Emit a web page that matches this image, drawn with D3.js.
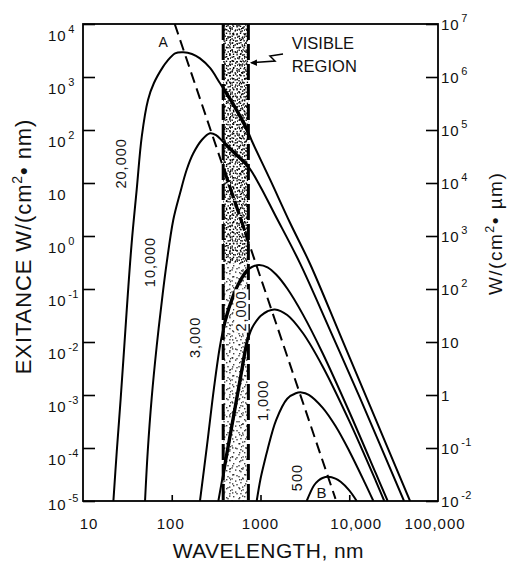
<!DOCTYPE html>
<html><head><meta charset="utf-8">
<script src="https://cdn.jsdelivr.net/npm/d3@7"></script>
<style>
html,body{margin:0;padding:0;background:#fff;}
svg{display:block;}
text{font-family:"Liberation Sans",Arial,sans-serif;fill:#111;}
</style></head><body>
<svg id="chart" width="517" height="565"></svg>
<script>
// ---------------- data ----------------
const temperatures = [20000, 10000, 3000, 2000, 1000, 500];
const curveLabels = ["20,000", "10,000", "3,000", "2,000", "1,000", "500"];

const wl20000 = [22, 24, 26.6, 29.2, 32, 35.4, 40.3, 46, 54, 63, 80, 88, 109, 135, 169, 208, 270, 350, 496, 729, 800, 1280, 2150, 3610, 7870, 17100, 48400];
const ex20000 = [1e-5, 8.5e-5, 8.7e-4, 8.4e-3, 0.08, 0.76, 7.6, 77, 370, 770, 1570, 1950, 2800, 2930, 2720, 2250, 1480, 760, 300, 90, 62, 11.7, 1.78, 0.30, 0.0138, 6.3e-4, 1e-5];

const wl10000 = [50, 53.6, 59.4, 67.7, 79, 87.7, 104, 124, 147, 175, 218, 270, 316, 378, 516, 729, 987, 1460, 2790, 6070, 13200, 41400];
const ex10000 = [1e-5, 8.5e-5, 8.7e-4, 8.4e-3, 0.08, 0.31, 2.0, 6.4, 17.6, 36.3, 64.7, 86.7, 80, 60, 36, 20.3, 8.8, 2.49, 0.305, 0.0168, 8.8e-4, 1e-5];

const wl3000 = [208, 250, 300, 350, 400, 500, 600, 700, 800, 966, 1200, 1500, 2000, 3000, 5000, 10000, 20000, 27100];
const ex3000 = [1e-5, 1.14e-4, 1.41e-3, 8.5e-3, 0.0251, 0.079, 0.151, 0.219, 0.26, 0.285, 0.257, 0.1875, 0.102, 0.0332, 6.2e-3, 4.83e-4, 3.27e-5, 1e-5];

const wl2000 = [335, 400, 500, 600, 700, 800, 900, 1000, 1200, 1450, 2000, 3000, 5000, 10000, 20000, 24800];
const ex2000 = [1e-5, 5.2e-5, 4.2e-4, 2.3e-3, 9.3e-3, 0.0182, 0.0251, 0.0309, 0.038, 0.0412, 0.0324, 0.0148, 3.5e-3, 3.25e-4, 2.35e-5, 1e-5];

const wl1000 = [906, 1000, 1100, 1200, 1500, 2000, 2500, 2900, 3500, 5000, 7000, 10000, 15000, 18700];
const ex1000 = [1e-5, 2.6e-5, 5.2e-5, 9.3e-5, 3.36e-4, 8.5e-4, 1.08e-3, 1.12e-3, 1.01e-3, 5.8e-4, 2.6e-4, 8.8e-5, 2.2e-5, 1e-5];

const wl500 = [3316, 4000, 4500, 5000, 5800, 7000, 8000, 10000, 12140];
const ex500 = [1e-5, 1.96e-5, 2.43e-5, 2.72e-5, 2.87e-5, 2.65e-5, 2.3e-5, 1.59e-5, 1e-5];

// Wien displacement locus A -> B (wavelength nm, exitance)
const wienLocusWl = [108, 7000];
const wienLocusEx = [1e4, 1.1e-5];

// visible region (nm)
const visibleRange = [380, 730];

// axes
const xTickValues = [10, 100, 1000, 10000, 100000];
const xTickLabels = ["10", "100", "1000", "10,000", "100,000"];
const leftTickValues = [1e4, 1e3, 1e2, 1e1, 1e0, 1e-1, 1e-2, 1e-3, 1e-4, 1e-5];
const leftTickBases = ["10", "10", "10", "10", "10", "10", "10", "10", "10", "10"];
const leftTickExps = ["4", "3", "2", "", "0", "-1", "-2", "-3", "-4", "-5"];
const rightTickValues = [1e7, 1e6, 1e5, 1e4, 1e3, 1e2, 1e1, 1e0, 1e-1, 1e-2];
const rightTickBases = ["10", "10", "10", "10", "10", "10", "10", "1", "10", "10"];
const rightTickExps = ["7", "6", "5", "4", "3", "2", "", "", "-1", "-2"];

// ---------------- layout ----------------
const svg = d3.select("#chart");
const plot = {left: 83, right: 438, top: 24, bottom: 501};
const x = d3.scaleLog().domain([10, 1e5]).range([plot.left, plot.right]);
const y = d3.scaleLog().domain([1e-5, 1e4]).range([plot.bottom, plot.top]);
const yR = d3.scaleLog().domain([1e-2, 1e7]).range([plot.bottom, plot.top]);

svg.append("rect").attr("width", 517).attr("height", 565).attr("fill", "#fff");

const defs = svg.append("defs");
defs.append("clipPath").attr("id", "plotClip").append("rect")
  .attr("x", plot.left).attr("y", plot.top)
  .attr("width", plot.right - plot.left).attr("height", plot.bottom - plot.top);
defs.append("clipPath").attr("id", "bandClip").append("rect")
  .attr("x", x(visibleRange[0])).attr("y", plot.top)
  .attr("width", x(visibleRange[1]) - x(visibleRange[0])).attr("height", plot.bottom - plot.top);

// stipple patterns (texture only)
const patterns = [
  {id: "stA", w: 7, h: 7, dots: [[0.5,0.5],[3.5,2.2],[5.4,5.1],[1.8,4.6],[6,1.4]]},
  {id: "stB", w: 11, h: 11, dots: [[2,1],[7.3,3],[4,7.4],[9.2,9],[0.4,5.2],[10,6]]},
  {id: "stC", w: 13, h: 9, dots: [[5,2],[11,6.2],[2.3,7],[8,0.4]]}
];
patterns.forEach(p => {
  const pat = defs.append("pattern").attr("id", p.id).attr("patternUnits", "userSpaceOnUse")
    .attr("width", p.w).attr("height", p.h);
  p.dots.forEach(d => pat.append("rect").attr("x", d[0]).attr("y", d[1])
    .attr("width", 1.4).attr("height", 1.4).attr("fill", "#000"));
});

const gPlot = svg.append("g").attr("clip-path", "url(#plotClip)");

// visible band stipple
const bx0 = x(visibleRange[0]), bx1 = x(visibleRange[1]);
const ySplit = y(0.3);
["stA", "stB", "stC"].forEach(id => gPlot.append("rect")
  .attr("x", bx0).attr("y", plot.top).attr("width", bx1 - bx0).attr("height", ySplit - plot.top)
  .attr("fill", `url(#${id})`));
["stB", "stC"].forEach(id => gPlot.append("rect")
  .attr("x", bx0).attr("y", ySplit).attr("width", bx1 - bx0).attr("height", plot.bottom - ySplit)
  .attr("fill", `url(#${id})`).attr("opacity", 0.75));

// band boundaries
visibleRange.forEach(v => gPlot.append("line")
  .attr("x1", x(v)).attr("x2", x(v)).attr("y1", plot.top).attr("y2", plot.bottom)
  .attr("stroke", "#000").attr("stroke-width", 3).attr("stroke-dasharray", "16,4"));

// curves
const seriesWl = [wl20000, wl10000, wl3000, wl2000, wl1000, wl500];
const seriesEx = [ex20000, ex10000, ex3000, ex2000, ex1000, ex500];
const series = temperatures.map((t, i) => ({t, pts: seriesWl[i].map((w, j) => [w, seriesEx[i][j]])}));
const line = d3.line().x(d => x(d[0])).y(d => y(d[1])).curve(d3.curveCatmullRom.alpha(0.5));

gPlot.selectAll("path.curve").data(series).join("path").attr("class", "curve")
  .attr("d", d => line(d.pts)).attr("fill", "none").attr("stroke", "#000")
  .attr("stroke-width", 2).attr("stroke-linejoin", "round");

const wienPts = wienLocusWl.map((w, i) => [w, wienLocusEx[i]]);
const wienLine = d3.line().x(d => x(d[0])).y(d => y(d[1]));
gPlot.append("path").attr("d", wienLine(wienPts)).attr("fill", "none").attr("stroke", "#000")
  .attr("stroke-width", 2).attr("stroke-dasharray", "11,6");

// bold appearance inside band
const gBand = gPlot.append("g").attr("clip-path", "url(#bandClip)");
gBand.selectAll("path").data(series).join("path")
  .attr("d", d => line(d.pts)).attr("fill", "none").attr("stroke", "#000")
  .attr("stroke-width", 3.4).attr("stroke-linejoin", "round");
gBand.append("path").attr("d", wienLine(wienPts)).attr("fill", "none").attr("stroke", "#000")
  .attr("stroke-width", 3.2).attr("stroke-dasharray", "14,3");

// ---------------- annotations ----------------
const curveLabelAnchors = [[30.9, 23.5], [64.7, 0.323], [208, 0.0122], [695, 0.0385], [1215, 7.9e-4], [2972, 2.77e-5]];
const gLab = svg.append("g");
curveLabels.forEach((lab, i) => {
  const a = curveLabelAnchors[i];
  const g = gLab.append("g").attr("transform", `translate(${x(a[0])},${y(a[1])}) rotate(-90)`);
  const t = g.append("text").attr("text-anchor", "middle").attr("font-size", 14.5)
    .attr("letter-spacing", 1).text(lab);
  if (lab === "2,000" || lab === "1,000") {
    const bb = t.node().getBBox();
    g.insert("rect", "text").attr("x", bb.x - 1).attr("y", bb.y + 1).attr("width", bb.width + 2)
      .attr("height", bb.height - 2).attr("fill", "#fff");
  }
});
svg.append("text").attr("x", x(80.3)).attr("y", y(3630)).attr("text-anchor", "middle")
  .attr("font-size", 14).text("A");
svg.append("text").attr("x", x(4864)).attr("y", y(1.16e-5)).attr("text-anchor", "middle")
  .attr("font-size", 15).text("B");

const visT = svg.append("text").attr("x", x(2247)).attr("y", y(3334)).attr("font-size", 16.5);
visT.append("tspan").text("VISIBLE");
visT.append("tspan").attr("x", x(2247)).attr("dy", 22.4).text("REGION");

// zig-zag arrow to band
const arrowPts = [[1793, 2716], [1279, 2489], [1457, 2004], [790, 1862]];
svg.append("path").attr("d", d3.line().x(d => x(d[0])).y(d => y(d[1]))(arrowPts))
  .attr("fill", "none").attr("stroke", "#000").attr("stroke-width", 1.5);
const tip = [x(760), y(1862)];
svg.append("path")
  .attr("d", `M${tip[0]},${tip[1]} L${tip[0] + 7},${tip[1] - 3.2} L${tip[0] + 7},${tip[1] + 3.2} Z`)
  .attr("fill", "#000");

// ---------------- frame & axes ----------------
svg.append("rect").attr("x", plot.left).attr("y", plot.top)
  .attr("width", plot.right - plot.left).attr("height", plot.bottom - plot.top)
  .attr("fill", "none").attr("stroke", "#000").attr("stroke-width", 1.8);

const axL = svg.append("g").attr("transform", `translate(${plot.left},0)`)
  .call(d3.axisLeft(y).tickValues(leftTickValues).tickSize(-12).tickFormat(""));
const axR = svg.append("g").attr("transform", `translate(${plot.right},0)`)
  .call(d3.axisRight(yR).tickValues(rightTickValues).tickSize(-12).tickFormat(""));
const axB = svg.append("g").attr("transform", `translate(0,${plot.bottom})`)
  .call(d3.axisBottom(x).tickValues([100, 1000, 10000]).tickSize(-6).tickFormat(""));
[axL, axR, axB].forEach(a => {
  a.select(".domain").remove();
  a.selectAll(".tick line").attr("stroke", "#000").attr("stroke-width", 1.6);
});

function expLabel(xPos, yPos, base, exp, anchor) {
  const t = svg.append("text").attr("x", xPos).attr("y", yPos).attr("font-size", 15)
    .attr("letter-spacing", 1).attr("text-anchor", anchor);
  t.append("tspan").text(base);
  if (exp) t.append("tspan").attr("dx", 1.5).attr("dy", -8.3).attr("font-size", 11)
    .attr("letter-spacing", 0.5).text(exp);
}
leftTickValues.forEach((v, i) => expLabel(48, Math.min(y(v) + 17, 510), leftTickBases[i], leftTickExps[i], "start"));
rightTickValues.forEach((v, i) => expLabel(441, yR(v) + 6, rightTickBases[i], rightTickExps[i], "start"));

const xLabelNudge = [6, -1, 0, 7, -3];
xTickValues.forEach((v, i) => svg.append("text").attr("x", x(v) + xLabelNudge[i]).attr("y", 528.5)
  .attr("text-anchor", "middle").attr("font-size", 15).attr("letter-spacing", 1).text(xTickLabels[i]));

// titles
svg.append("text").attr("x", 268.3).attr("y", 558).attr("text-anchor", "middle")
  .attr("font-size", 21).attr("letter-spacing", 0.4).text("WAVELENGTH, nm");

const lt = svg.append("text").attr("transform", "translate(30.7,246.5) rotate(-90)")
  .attr("text-anchor", "middle").attr("font-size", 22).attr("letter-spacing", 0.9);
lt.append("tspan").text("EXITANCE  W/(cm");
lt.append("tspan").attr("dy", -9).attr("font-size", 14).text("2");
lt.append("tspan").attr("dy", 9).text("\u2022 nm)");

const rt = svg.append("text").attr("transform", "translate(501.7,233.4) rotate(-90)")
  .attr("text-anchor", "middle").attr("font-size", 19).attr("letter-spacing", 1.5);
rt.append("tspan").text("W/(cm");
rt.append("tspan").attr("dy", -8).attr("font-size", 12.5).text("2");
rt.append("tspan").attr("dy", 8).text("\u2022 \u00b5m)");
</script>
</body></html>
